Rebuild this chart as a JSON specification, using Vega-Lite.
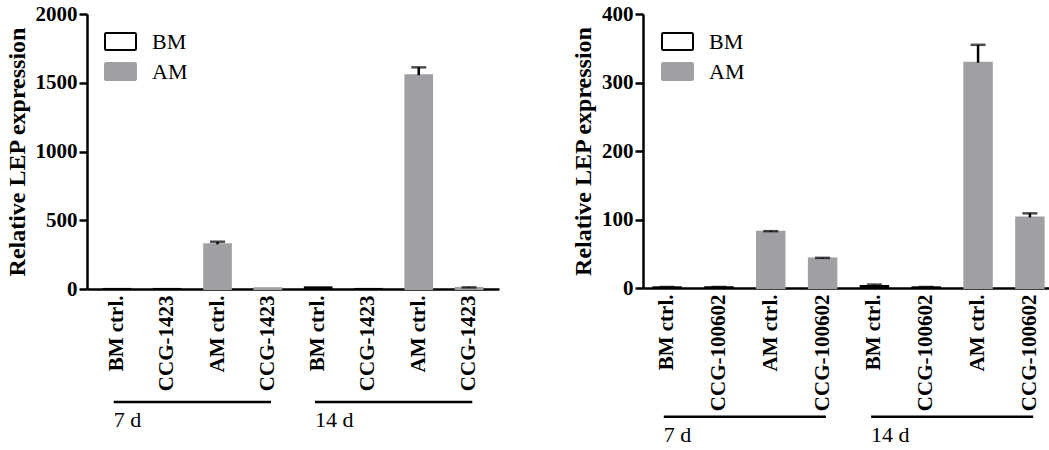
{
  "$schema": "https://vega.github.io/schema/vega-lite/v6.json",
  "background": "white",
  "padding": {"left": 4, "top": 3, "right": 0, "bottom": 0},
  "spacing": 72,
  "config": {
    "view": {"stroke": null},
    "font": "Liberation Serif",
    "axis": {"labelFont": "Liberation Serif", "labelFontWeight": "bold", "labelColor": "black", "titleFont": "Liberation Serif", "titleFontWeight": "bold", "titleColor": "black", "domainColor": "black", "domainWidth": 2.5, "tickColor": "black", "tickWidth": 2.5, "grid": false},
    "legend": {"labelFont": "Liberation Serif", "labelFontSize": 22, "labelColor": "black", "rowPadding": 0, "labelOffset": 15, "symbolStrokeWidth": 2}
  },
  "datasets": {
    "left": [
      {"key": "1|BM ctrl.", "type": "BM", "value": 0.5},
      {"key": "2|CCG-1423", "type": "BM", "value": 0.5},
      {"key": "3|AM ctrl.", "type": "AM", "value": 325, "hi": 344},
      {"key": "4|CCG-1423", "type": "AM", "value": 6},
      {"key": "5|BM ctrl.", "type": "BM", "value": 12},
      {"key": "6|CCG-1423", "type": "BM", "value": 0.5},
      {"key": "7|AM ctrl.", "type": "AM", "value": 1555, "hi": 1612},
      {"key": "8|CCG-1423", "type": "AM", "value": 8, "hi": 12}
    ],
    "leftGroups": [
      {"day": "7 d", "start": "1|BM ctrl.", "end": "4|CCG-1423"},
      {"day": "14 d", "start": "5|BM ctrl.", "end": "8|CCG-1423"}
    ],
    "right": [
      {"key": "1|BM ctrl.", "type": "BM", "value": 1, "hi": 1.5},
      {"key": "2|CCG-100602", "type": "BM", "value": 1, "hi": 1.5},
      {"key": "3|AM ctrl.", "type": "AM", "value": 82, "hi": 83},
      {"key": "4|CCG-100602", "type": "AM", "value": 43, "hi": 44},
      {"key": "5|BM ctrl.", "type": "BM", "value": 3, "hi": 5},
      {"key": "6|CCG-100602", "type": "BM", "value": 1, "hi": 1.5},
      {"key": "7|AM ctrl.", "type": "AM", "value": 329, "hi": 355},
      {"key": "8|CCG-100602", "type": "AM", "value": 103, "hi": 109}
    ],
    "rightGroups": [
      {"day": "7 d", "start": "1|BM ctrl.", "end": "4|CCG-100602"},
      {"day": "14 d", "start": "5|BM ctrl.", "end": "8|CCG-100602"}
    ]
  },
  "resolve": {"scale": {"fill": "independent", "stroke": "independent"}, "legend": {"fill": "independent", "stroke": "independent"}},
  "hconcat": [
    {
      "width": 412,
      "height": 275,
      "layer": [
        {
          "data": {"name": "left"},
          "mark": {"type": "bar", "strokeWidth": 2},
          "encoding": {
            "x": {"field": "key", "type": "nominal", "sort": null, "scale": {"paddingInner": 0.47, "paddingOuter": 0.33},
              "axis": {"title": null, "labelExpr": "split(datum.label, '|')[1]", "labelAngle": 270, "labelAlign": "right", "labelBaseline": "middle", "labelFontSize": 21, "labelPadding": 6, "ticks": false}},
            "y": {"field": "value", "type": "quantitative", "scale": {"domain": [0, 2000], "nice": false},
              "axis": {"title": "Relative LEP expression", "format": "d", "values": [0, 500, 1000, 1500, 2000], "tickSize": 8, "labelFontSize": 21, "labelPadding": 2, "titleFontSize": 24, "titlePadding": 6}},
            "fill": {"field": "type", "type": "nominal", "scale": {"domain": ["BM", "AM"], "range": ["white", "#a0a0a4"]},
              "legend": {"title": null, "orient": "none", "legendX": 17, "legendY": 11, "symbolType": "M-0.92,-0.55H0.92Q1,-0.55 1,-0.47V0.47Q1,0.55 0.92,0.55H-0.92Q-1,0.55 -1,0.47V-0.47Q-1,-0.55 -0.92,-0.55Z", "symbolSize": 961}},
            "stroke": {"field": "type", "type": "nominal", "scale": {"domain": ["BM", "AM"], "range": ["black", "#a0a0a4"]},
              "legend": {"title": null, "orient": "none", "legendX": 17, "legendY": 11, "symbolType": "M-0.92,-0.55H0.92Q1,-0.55 1,-0.47V0.47Q1,0.55 0.92,0.55H-0.92Q-1,0.55 -1,0.47V-0.47Q-1,-0.55 -0.92,-0.55Z", "symbolSize": 961}}
          }
        },
        {
          "data": {"name": "left"},
          "transform": [{"filter": "isValid(datum.hi)"}],
          "mark": {"type": "rule", "strokeWidth": 2.5, "color": "black"},
          "encoding": {
            "x": {"field": "key", "type": "nominal", "sort": null},
            "y": {"field": "value", "type": "quantitative"},
            "y2": {"field": "hi"}
          }
        },
        {
          "data": {"name": "left"},
          "transform": [{"filter": "isValid(datum.hi)"}],
          "mark": {"type": "tick", "size": 15, "thickness": 2.5, "color": "black"},
          "encoding": {
            "x": {"field": "key", "type": "nominal", "sort": null},
            "y": {"field": "hi", "type": "quantitative"}
          }
        },
        {
          "data": {"name": "leftGroups"},
          "mark": {"type": "rule", "strokeWidth": 2.5, "color": "black", "clip": false},
          "encoding": {
            "x": {"field": "start", "type": "nominal", "sort": null, "bandPosition": 0.38},
            "x2": {"field": "end", "bandPosition": 0.62},
            "y": {"datum": -822}
          }
        },
        {
          "data": {"name": "leftGroups"},
          "mark": {"type": "text", "align": "left", "baseline": "middle", "fontSize": 22, "font": "Liberation Serif", "color": "black", "clip": false},
          "encoding": {
            "x": {"field": "start", "type": "nominal", "sort": null, "bandPosition": 0.38},
            "y": {"datum": -953},
            "text": {"field": "day"}
          }
        }
      ]
    },
    {
      "width": 411,
      "height": 274,
      "layer": [
        {
          "data": {"name": "right"},
          "mark": {"type": "bar", "strokeWidth": 2},
          "encoding": {
            "x": {"field": "key", "type": "nominal", "sort": null, "scale": {"paddingInner": 0.47, "paddingOuter": 0.2},
              "axis": {"title": null, "labelExpr": "split(datum.label, '|')[1]", "labelAngle": 270, "labelAlign": "right", "labelBaseline": "middle", "labelFontSize": 21, "labelPadding": 6, "ticks": false}},
            "y": {"field": "value", "type": "quantitative", "scale": {"domain": [0, 400], "nice": false},
              "axis": {"title": "Relative LEP expression", "format": "d", "values": [0, 100, 200, 300, 400], "tickSize": 8, "labelFontSize": 21, "labelPadding": 2, "titleFontSize": 24, "titlePadding": 6}},
            "fill": {"field": "type", "type": "nominal", "scale": {"domain": ["BM", "AM"], "range": ["white", "#a0a0a4"]},
              "legend": {"title": null, "orient": "none", "legendX": 18, "legendY": 11, "symbolType": "M-0.92,-0.55H0.92Q1,-0.55 1,-0.47V0.47Q1,0.55 0.92,0.55H-0.92Q-1,0.55 -1,0.47V-0.47Q-1,-0.55 -0.92,-0.55Z", "symbolSize": 961}},
            "stroke": {"field": "type", "type": "nominal", "scale": {"domain": ["BM", "AM"], "range": ["black", "#a0a0a4"]},
              "legend": {"title": null, "orient": "none", "legendX": 18, "legendY": 11, "symbolType": "M-0.92,-0.55H0.92Q1,-0.55 1,-0.47V0.47Q1,0.55 0.92,0.55H-0.92Q-1,0.55 -1,0.47V-0.47Q-1,-0.55 -0.92,-0.55Z", "symbolSize": 961}}
          }
        },
        {
          "data": {"name": "right"},
          "transform": [{"filter": "isValid(datum.hi)"}],
          "mark": {"type": "rule", "strokeWidth": 2.5, "color": "black"},
          "encoding": {
            "x": {"field": "key", "type": "nominal", "sort": null},
            "y": {"field": "value", "type": "quantitative"},
            "y2": {"field": "hi"}
          }
        },
        {
          "data": {"name": "right"},
          "transform": [{"filter": "isValid(datum.hi)"}],
          "mark": {"type": "tick", "size": 15, "thickness": 2.5, "color": "black"},
          "encoding": {
            "x": {"field": "key", "type": "nominal", "sort": null},
            "y": {"field": "hi", "type": "quantitative"}
          }
        },
        {
          "data": {"name": "rightGroups"},
          "mark": {"type": "rule", "strokeWidth": 2.5, "color": "black", "clip": false},
          "encoding": {
            "x": {"field": "start", "type": "nominal", "sort": null, "bandPosition": 0.38},
            "x2": {"field": "end", "bandPosition": 0.62},
            "y": {"datum": -188}
          }
        },
        {
          "data": {"name": "rightGroups"},
          "mark": {"type": "text", "align": "left", "baseline": "middle", "fontSize": 22, "font": "Liberation Serif", "color": "black", "clip": false},
          "encoding": {
            "x": {"field": "start", "type": "nominal", "sort": null, "bandPosition": 0.38},
            "y": {"datum": -215},
            "text": {"field": "day"}
          }
        }
      ]
    }
  ]
}
